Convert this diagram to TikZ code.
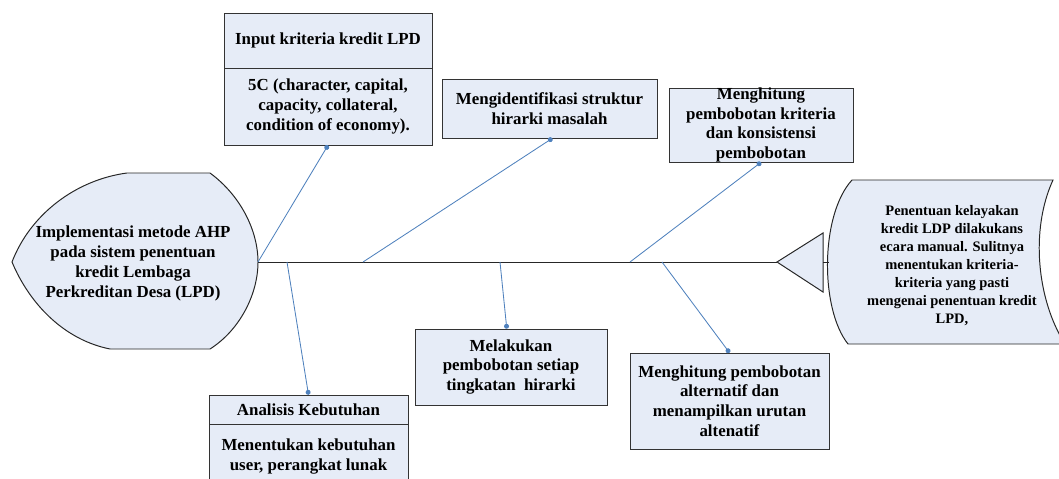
\documentclass[tikz,border=0pt]{standalone}
\usepackage{fontspec}
\setmainfont{Liberation Serif}
\usetikzlibrary{arrows.meta}

\definecolor{boxfill}{RGB}{230,236,247}
\definecolor{bonecol}{RGB}{79,129,189}

\begin{document}
\begin{tikzpicture}
    [
      x=0.025cm, y=-0.025cm,
      box/.style={draw=black!80,fill=boxfill,rectangle,inner sep=0pt,align=center,
        font=\fontsize{12}{14}\selectfont\bfseries},
      tailtext/.style={align=center,font=\fontsize{12}{14.2}\selectfont\bfseries},
      headtext/.style={align=center,font=\fontsize{10.3}{12.8}\selectfont\bfseries},
      bone/.style={-{Circle[length=3.5pt]},draw=bonecol,line width=0.6pt},
      spine/.style={draw=black!85,line width=0.7pt}
    ]

    \useasboundingbox (0,0) rectangle (1059,479);

    % tail and head of the fish
    \draw [spine,fill=boxfill] (127,173) -- (210,173)
      .. controls (240,195) and (258,230) .. (258,262)
      .. controls (258,294) and (240,330) .. (210,349) -- (110,349)
      .. controls (65,340) and (30,305) .. (12,262)
      .. controls (30,215) and (75,180) .. (127,173) -- cycle;
    \node at (133,263) [tailtext] (tail) {Implementasi metode AHP\\
      pada sistem penentuan\\kredit Lembaga\\Perkreditan Desa (LPD)};

    \draw [spine,fill=boxfill] (852,180) -- (1053,180)
      .. controls (1030,230) and (1037,300) .. (1065,344) -- (848,344)
      .. controls (820,309) and (820,215) .. (852,180) -- cycle;
    \node at (952,266) [headtext]
      (head) {Penentuan kelayakan\\kredit LDP dilakukans\\ecara manual. Sulitnya\\
      menentukan kriteria-\\kriteria yang pasti\\mengenai penentuan kredit\\LPD,};

    \coordinate (tailE) at (258,262);
    \coordinate (arrowtip) at (777,262);
    \coordinate (arrowbase) at (823,262);
    \coordinate (headW) at (829,262);

    \draw [spine] (tailE) -- (arrowtip);
    \draw [spine,fill=boxfill] (arrowtip) -- (823,233) -- (823,292) -- cycle;
    \draw [spine] (arrowbase) -- (headW);

    % cause boxes
    \node at (328,40.5) [box,minimum width=5.2cm,minimum height=1.375cm]
      (input) {Input kriteria kredit LPD};
    \node at (328,106.5) [box,minimum width=5.2cm,minimum height=1.925cm]
      (inputbody) {5C (character, capital,\\capacity, collateral,\\condition of economy).};

    \node at (549.5,108.5) [box,minimum width=5.375cm,minimum height=1.475cm]
      (struktur) {Mengidentifikasi struktur\\hirarki masalah};

    \node at (761,125) [box,minimum width=4.6cm,minimum height=1.85cm,
      font=\fontsize{12}{13.8}\selectfont\bfseries]
      (kriteria) {Menghitung\\pembobotan kriteria\\dan konsistensi\\pembobotan};

    \node at (308.5,409.5) [box,minimum width=4.975cm,minimum height=0.725cm]
      (analisis) {Analisis Kebutuhan};
    \node [box,anchor=north,minimum width=4.975cm,inner ysep=10pt]
      at (analisis.south) (analisisbody) {Menentukan kebutuhan\\user, perangkat lunak\\ };

    \node at (511,367) [box,minimum width=4.8cm,minimum height=1.9cm]
      (tingkatan) {Melakukan\\pembobotan setiap\\tingkatan~ hirarki};

    \node at (729.5,401) [box,minimum width=4.975cm,minimum height=2.4cm]
      (alternatif) {Menghitung pembobotan\\alternatif dan\\menampilkan urutan\\altenatif};

    % bones
    \coordinate (b2) at (363,262);
    \coordinate (b3) at (630,262);
    \coordinate (b4) at (287,262);
    \coordinate (b5) at (500,262);
    \coordinate (b6) at (662,262);

    \draw [bone] (tailE) -- (inputbody.south);
    \draw [bone] (b2) -- ([xshift=2pt]struktur.south);
    \draw [bone] (b3) -- (kriteria.south);
    \draw [bone] (b4) -- (analisis.north);
    \draw [bone] (b5) -- ([xshift=-3pt]tingkatan.north);
    \draw [bone] (b6) -- (alternatif.north);
  \end{tikzpicture}
\end{document}
